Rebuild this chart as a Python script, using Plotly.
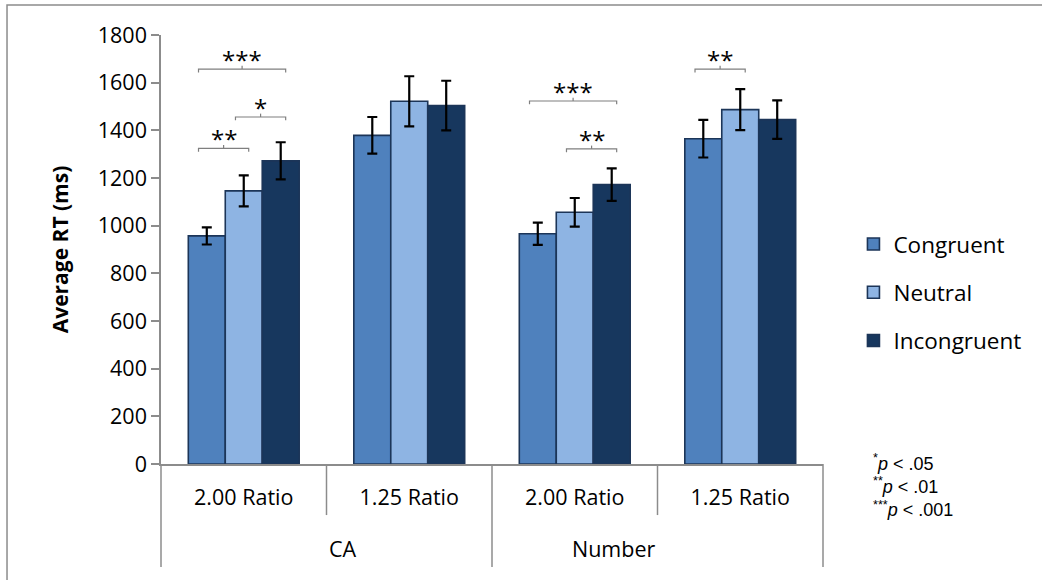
import plotly.graph_objects as go

# --- data -------------------------------------------------------------
tasks = ["CA", "CA", "Number", "Number"]
ratios = ["2.00 Ratio", "1.25 Ratio", "2.00 Ratio", "1.25 Ratio"]

conditions = ["Congruent", "Neutral", "Incongruent"]
mean_rt = {
    "Congruent":   [957, 1379, 966, 1365],
    "Neutral":     [1146, 1522, 1056, 1487],
    "Incongruent": [1272, 1504, 1172, 1445],
}
sem_rt = {
    "Congruent":   [36, 77, 47, 79],
    "Neutral":     [65, 105, 60, 86],
    "Incongruent": [78, 104, 68, 81],
}

# significance brackets: (category index, bar from, bar to, bracket height in ms, label)
sig_cat = [0, 0, 0, 2, 2, 3]
sig_from = [0, 1, 0, 0, 1, 0]
sig_to = [1, 2, 2, 2, 2, 1]
sig_level = [1324, 1456, 1657, 1523, 1322, 1657]
sig_label = ["**", "*", "***", "***", "**", "**"]

y_ticks = [0, 200, 400, 600, 800, 1000, 1200, 1400, 1600, 1800]

# --- style ------------------------------------------------------------
fills = {"Congruent": "#4F81BD", "Neutral": "#8EB4E3", "Incongruent": "#17375E"}
edge = "#1C3558"
axis_gray = "#8C8C8C"
font_main = "Open Sans"
BARGAP = 0.33

# one category key per (task, ratio) cell; the ratio is shown as tick text
cat_keys = [f"{t} · {r}" for t, r in zip(tasks, ratios)]

fig = go.Figure()
for cond in conditions:
    fig.add_trace(go.Bar(
        name=cond,
        legendgroup=cond,
        x=cat_keys,
        y=mean_rt[cond],
        marker=dict(color=fills[cond], line=dict(color=edge, width=1.6)),
        error_y=dict(type="data", array=sem_rt[cond], visible=True,
                     color="black", thickness=2.2, width=5),
    ))

n_cat = len(cat_keys)
n_bar = len(conditions)
group_w = 1 - BARGAP
bar_w = group_w / n_bar


def bar_center(cat, i):
    # position on the category axis (categories sit at 0, 1, 2, ...)
    return cat - group_w / 2 + (i + 0.5) * bar_w


def to_domain(pos):
    return (pos + 0.5) / n_cat


# significance brackets with centre tick and star label
drop = 14  # ms
for c, a, b, lvl, lab in zip(sig_cat, sig_from, sig_to, sig_level, sig_label):
    xa = bar_center(c, a) - 0.05
    xb = bar_center(c, b) + 0.03
    xm = (xa + xb) / 2
    fig.add_shape(type="path", xref="x", yref="y",
                  path=f"M {xa} {lvl - drop} L {xa} {lvl} L {xb} {lvl} L {xb} {lvl - drop}",
                  line=dict(color="#7F7F7F", width=1.2))
    fig.add_shape(type="line", xref="x", yref="y",
                  x0=xm, x1=xm, y0=lvl, y1=lvl + drop,
                  line=dict(color="#7F7F7F", width=1.2))
    fig.add_annotation(x=xm, xref="x", y=lvl, yref="y",
                       text=lab, showarrow=False, yanchor="bottom",
                       xanchor="center", yshift=-9,
                       font=dict(family=font_main, size=24, color="black"))

# category separators below the x axis: short between ratios, long between tasks
inner_len = -0.119
outer_len = -0.240
for k in range(n_cat + 1):
    outer = k in (0, n_cat) or tasks[k] != tasks[k - 1]
    fig.add_shape(type="line", xref="x domain", yref="paper",
                  x0=k / n_cat, x1=k / n_cat, y0=0,
                  y1=outer_len if outer else inner_len,
                  line=dict(color=axis_gray, width=1.5))

# task labels centred under their ratio pairs
for task in dict.fromkeys(tasks):
    idx = [i for i, t in enumerate(tasks) if t == task]
    centre = to_domain((idx[0] + idx[-1]) / 2)
    fig.add_annotation(x=centre, xref="x domain", y=-0.198, yref="paper",
                       text=task, showarrow=False, yanchor="middle",
                       font=dict(family=font_main, size=21.5, color="black"))

# p-value key
fig.add_annotation(
    xref="paper", yref="paper", x=1.073, y=0.035, xanchor="left", yanchor="top",
    align="left", showarrow=False,
    text="<sup>*</sup><i>p</i> < .05<br><sup>**</sup><i>p</i> < .01<br><sup>***</sup><i>p</i> < .001",
    font=dict(family="Liberation Sans", size=18, color="black"),
)

# outer chart frame
fig.add_shape(type="rect", xref="paper", yref="paper",
              x0=-0.2326, x1=1.5, y0=-0.5, y1=1.07,
              line=dict(color=axis_gray, width=1.5), fillcolor="rgba(0,0,0,0)")

fig.update_layout(
    width=1042, height=580,
    margin=dict(l=161, r=219, t=35, b=116, autoexpand=False),
    paper_bgcolor="white", plot_bgcolor="white",
    barmode="group", bargap=BARGAP, bargroupgap=0,
    font=dict(family=font_main, color="black"),
    showlegend=True,
    legend=dict(x=1.046, y=0.40, xanchor="left", yanchor="middle",
                font=dict(family=font_main, size=22.5, color="black"),
                tracegroupgap=16, itemwidth=30, bgcolor="rgba(0,0,0,0)"),
)

fig.update_yaxes(
    range=[0, 1800], tickvals=y_ticks, showgrid=False, zeroline=False,
    showline=True, linecolor=axis_gray, linewidth=1.5,
    ticks="outside", ticklen=8, tickcolor=axis_gray, tickwidth=1.5,
    tickfont=dict(family=font_main, size=21.5, color="black"),
    title=dict(text="<b>Average RT (ms)</b>", standoff=23,
               font=dict(family=font_main, size=21, color="black")),
    automargin=False,
)
fig.update_xaxes(
    type="category", categoryorder="array", categoryarray=cat_keys,
    range=[-0.5, n_cat - 0.5],
    tickvals=cat_keys, ticktext=ratios,
    showgrid=False, zeroline=False,
    showline=True, linecolor=axis_gray, linewidth=1.5,
    ticks="", ticklabelstandoff=13,
    tickfont=dict(family=font_main, size=21.5, color="black"),
    automargin=False,
)

fig.write_html("out.html")
